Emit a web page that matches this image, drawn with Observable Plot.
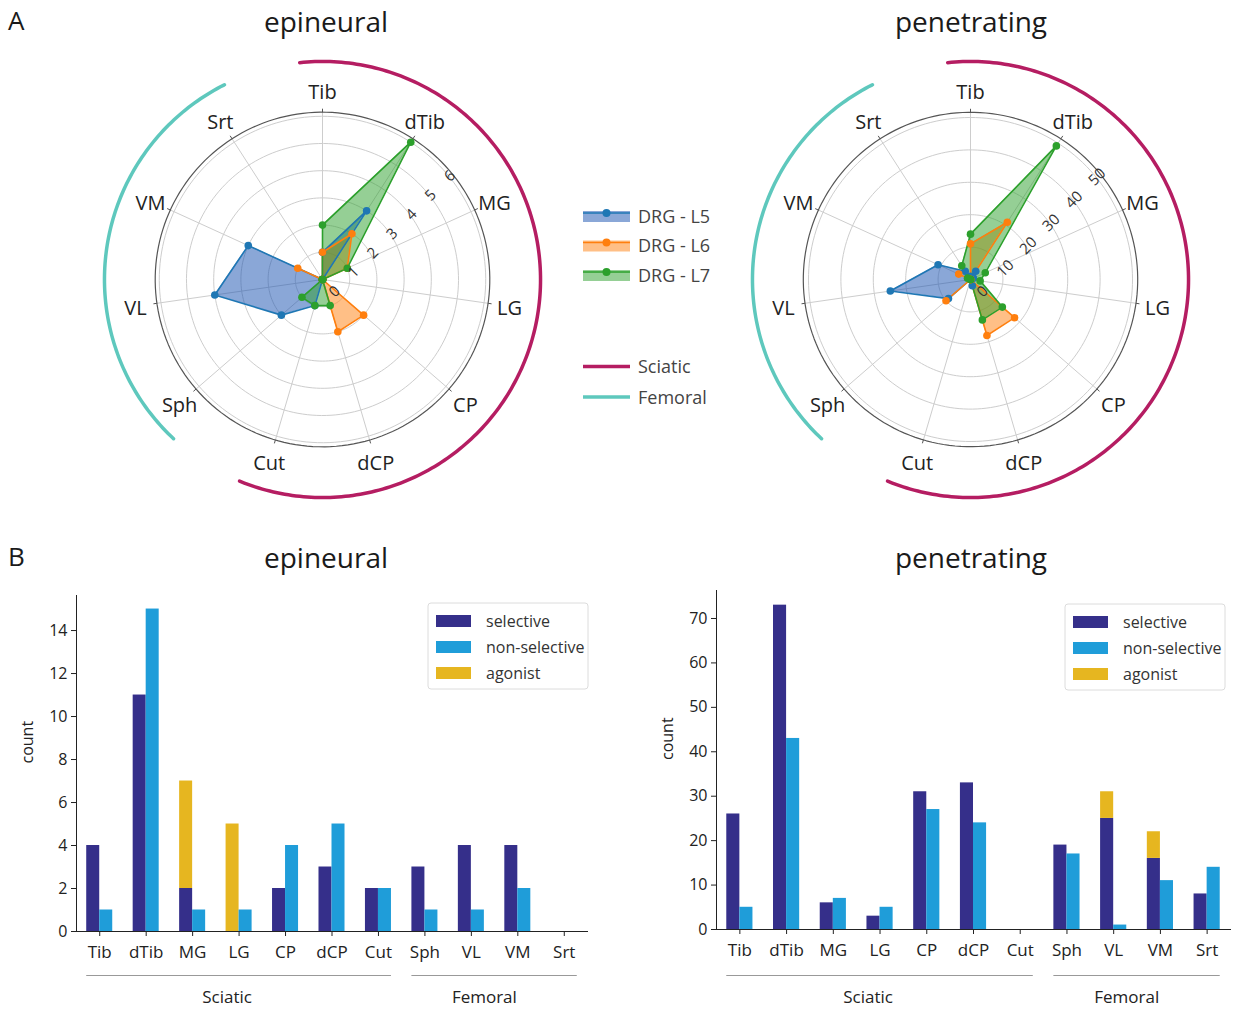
<!DOCTYPE html>
<html>
<head>
<meta charset="utf-8">
<script src="https://cdn.jsdelivr.net/npm/d3@7"></script>
<script src="https://cdn.jsdelivr.net/npm/@observablehq/plot@0.6"></script>
<style>
  body { margin: 0; background: #fff; }
  #page { position: relative; width: 1241px; height: 1011px; overflow: hidden; background: #fff; font-family: 'Open Sans', sans-serif; }
</style>
</head>
<body>
<div id="page"></div>
<script>
// ---------- data ----------
const categories = ["Tib", "dTib", "MG", "LG", "CP", "dCP", "Cut", "Sph", "VL", "VM", "Srt"];
const sciatic = ["Tib", "dTib", "MG", "LG", "CP", "dCP", "Cut"];
const femoral = ["Sph", "VL", "VM", "Srt"];
const nerves = ["Sciatic", "Femoral"];
const nerveColors = ["#b51d62", "#5ec8bd"];

const drgSeries = ["DRG - L5", "DRG - L6", "DRG - L7"];
const drgColors = ["#1f77b4", "#ff7f0e", "#2ca02c"];
const drgFills = ["#1550b0", "#ff7f0e", "#2ca02c"];

// radar values (epineural)
const epiL5 = [1, 3, 0, 0, 0, 0, 1, 2, 4, 3, 0];
const epiL6 = [1, 2, 1, 0, 2, 2, 0, 0, 0, 1, 0];
const epiL7 = [2, 6, 1, 0, 0, 1, 1, 1, 0, 0, 0];
const epiRings = [1, 2, 3, 4, 5, 6];
const epiRTicks = [0, 1, 2, 3, 4, 5, 6];
// radar values (penetrating)
const penL5 = [1, 3, 1, 0, 0, 2, 0, 9, 25, 11, 3];
const penL6 = [11, 21, 0, 0, 18, 18, 0, 10, 0, 4, 0];
const penL7 = [14, 49, 5, 3, 13, 13, 0, 0, 0, 1, 5];
const penRings = [10, 20, 30, 40, 50];
const penRTicks = [0, 10, 20, 30, 40, 50];

// bar values
const barTypes = ["selective", "non-selective", "agonist"];
const barColors = ["#352f8a", "#1f9dd9", "#e6b620"];
const epiSelective    = [4, 11, 2, 0, 2, 3, 2, 3, 4, 4, 0];
const epiNonSelective = [1, 15, 1, 1, 4, 5, 2, 1, 1, 2, 0];
const epiAgonist      = [0, 0, 5, 5, 0, 0, 0, 0, 0, 0, 0];
const epiYTicks = [0, 2, 4, 6, 8, 10, 12, 14];
const penSelective    = [26, 73, 6, 3, 31, 33, 0, 19, 25, 16, 8];
const penNonSelective = [5, 43, 7, 5, 27, 24, 0, 17, 1, 11, 14];
const penAgonist      = [0, 0, 0, 0, 0, 0, 0, 0, 6, 6, 0];
const penYTicks = [0, 10, 20, 30, 40, 50, 60, 70];

// ---------- helpers ----------
const FONT = "'Open Sans', sans-serif";
const page = document.getElementById("page");
function place(el, left, top) {
  el.style.position = "absolute";
  el.style.left = left + "px";
  el.style.top = top + "px";
  page.appendChild(el);
}
const angOf = c => categories.indexOf(c) * 360 / categories.length; // clockwise from top
const lonOf = c => 180 - angOf(c);

// ---------- overlay: titles & legends ----------
const ov = d3.create("svg").attr("width", 1241).attr("height", 1011).style("font-family", FONT);
function T(x, y, txt, size, anchor = "start", fill = "#1a1a1a") {
  ov.append("text").attr("x", x).attr("y", y).attr("font-size", size)
    .attr("text-anchor", anchor).attr("fill", fill).text(txt);
}
T(8, 30, "A", 26);
T(326, 31.5, "epineural", 28, "middle");
T(971, 31.5, "penetrating", 28, "middle");
T(8, 566, "B", 26);
T(326, 567.5, "epineural", 28, "middle");
T(971, 567.5, "penetrating", 28, "middle");

drgSeries.forEach((s, i) => {
  const yc = 216 + 29.5 * i;
  ov.append("rect").attr("x", 583).attr("y", yc - 5).attr("width", 47).attr("height", 11)
    .attr("fill", drgFills[i]).attr("fill-opacity", 0.5);
  ov.append("line").attr("x1", 583).attr("x2", 630).attr("y1", yc - 3).attr("y2", yc - 3)
    .attr("stroke", drgColors[i]).attr("stroke-width", 1.5);
  ov.append("circle").attr("cx", 606.5).attr("cy", yc - 3).attr("r", 4).attr("fill", drgColors[i]);
  T(638, yc + 6.5, s, 18, "start", "#444");
});
nerves.forEach((n, i) => {
  const yc = 366.5 + 30.5 * i;
  ov.append("line").attr("x1", 583).attr("x2", 630).attr("y1", yc).attr("y2", yc)
    .attr("stroke", nerveColors[i]).attr("stroke-width", 3.5);
  T(638, yc + 6.5, n, 18, "start", "#444");
});
function barLegend(x0, y0) {
  ov.append("rect").attr("x", x0).attr("y", y0).attr("width", 160).attr("height", 86).attr("rx", 3)
    .attr("fill", "#fff").attr("stroke", "#dcdcdc");
  barTypes.forEach((t, i) => {
    const yc = y0 + 18 + 26 * i;
    ov.append("rect").attr("x", x0 + 8).attr("y", yc - 6).attr("width", 35).attr("height", 12).attr("fill", barColors[i]);
    T(x0 + 58, yc + 5.5, t, 16, "start", "#333");
  });
}
barLegend(428, 603);
barLegend(1065, 604);
place(ov.node(), 0, 0);

// ---------- radar ----------
function radar(seriesValues, unitDeg, frameR, rings, rticks) {
  const points = drgSeries.flatMap((s, k) =>
    categories.map((c, i) => ({series: s, cat: c, value: seriesValues[k][i]})));
  const frameDeg = frameR * unitDeg;
  const lat = d => 90 - d.value * unitDeg;
  const lon = d => lonOf(d.cat);
  const fillOf = d => drgFills[drgSeries.indexOf(d.series)];
  const arc = (group, color) => {
    const a0 = angOf(group[0]) - 6, a1 = angOf(group[group.length - 1]) + 6;
    const coords = d3.range(a0, a1, 1).concat([a1]).map(t => [180 - t, 90 - 21.8]);
    return Plot.geo([{type: "LineString", coordinates: coords}], {stroke: color, strokeWidth: 3.5, fill: "none"});
  };
  return Plot.plot({
    width: 500, height: 500, margin: 0,
    style: `background: none; font-family: ${FONT}; color: #222;`,
    projection: {
      type: "azimuthal-equidistant",
      rotate: [0, -90],
      domain: d3.geoCircle().center([0, 90]).radius(25)()
    },
    color: {domain: drgSeries, range: drgColors},
    marks: [
      Plot.geo(rings, {geometry: r => d3.geoCircle().center([0, 90]).radius(r * unitDeg)(), stroke: "#cdcdcd", fill: "none", strokeWidth: 1}),
      Plot.link(categories, {x1: lonOf, y1: 90, x2: lonOf, y2: 90 - frameDeg, stroke: "#cdcdcd", strokeWidth: 1}),
      Plot.geo([frameR], {geometry: r => d3.geoCircle().center([0, 90]).radius(r * unitDeg)(), stroke: "#555", fill: "none", strokeWidth: 1.2}),
      Plot.link(categories, {x1: lonOf, y1: 90 - frameDeg, x2: lonOf, y2: 90 - frameDeg - 0.35, stroke: "#555", strokeWidth: 1}),
      arc(sciatic, nerveColors[0]),
      arc(femoral, nerveColors[1]),
      Plot.area(points, {x1: lon, y1: lat, x2: 0, y2: 90, z: "series", fill: fillOf, fillOpacity: 0.5, curve: "linear-closed"}),
      Plot.line(points, {x: lon, y: lat, z: "series", stroke: "series", strokeWidth: 1.6, curve: "linear-closed"}),
      Plot.dot(points, {x: lon, y: lat, fill: "series", r: 3.8}),
      Plot.text(categories, {x: lonOf, y: 90 - 18.9, text: d => d, dy: 2.5, fontSize: 20, fill: "#222"}),
      Plot.text(rticks, {x: 135, y: d => 90 - d * unitDeg, text: d => String(d), dx: 12, dy: 12, rotate: -45, fontSize: 15, fill: "#333"})
    ]
  });
}
place(radar([epiL5, epiL6, epiL7], 2.72, 6.15, epiRings, epiRTicks), 71.7, 29);
place(radar([penL5, penL6, penL7], 0.324, 51.6, penRings, penRTicks), 720, 29);

// ---------- bars ----------
function bars(sel, non, ago, yMax, yTicks, w, h, m, lineDy, labelDy) {
  const stacked = categories.flatMap((c, i) => [
    {cat: c, type: barTypes[0], value: sel[i]},
    {cat: c, type: barTypes[2], value: ago[i]}
  ]);
  const nonRows = categories.map((c, i) => ({cat: c, type: barTypes[1], value: non[i]}));
  const W = w - m.left - m.right;
  const half = (W / categories.length) * (1 - 0.44) / 2;
  return Plot.plot({
    width: w, height: h,
    marginLeft: m.left, marginRight: m.right, marginTop: m.top, marginBottom: m.bottom,
    style: `background: none; font-family: ${FONT}; color: #222;`,
    x: {domain: categories, paddingInner: 0.44, paddingOuter: 0.22, align: 0.5, round: false},
    y: {domain: [0, yMax]},
    color: {domain: barTypes, range: barColors},
    marks: [
      Plot.barY(stacked, {x: "cat", y: "value", fill: "type", insetRight: half}),
      Plot.barY(nonRows, {x: "cat", y: "value", fill: "type", insetLeft: half}),
      Plot.frame({anchor: "left", stroke: "#222"}),
      Plot.frame({anchor: "bottom", stroke: "#222"}),
      Plot.axisY({ticks: yTicks, tickSize: 5, tickPadding: 4, fontSize: 16, label: null}),
      Plot.axisX({tickSize: 5, tickPadding: 9, fontSize: 17, label: null}),
      Plot.text(["count"], {frameAnchor: "left", rotate: -90, dx: -49, fontSize: 16, fill: "#222"}),
      Plot.ruleY([0], {x1: () => sciatic[0], x2: () => sciatic[sciatic.length - 1], dy: lineDy, stroke: "#999"}),
      Plot.ruleY([0], {x1: () => femoral[0], x2: () => femoral[femoral.length - 1], dy: lineDy, stroke: "#999"}),
      Plot.text([nerves[0]], {x: () => "LG", y: () => 0, text: d => d, dx: -12, dy: labelDy, fontSize: 17, fill: "#222"}),
      Plot.text([nerves[1]], {x: () => "VL", y: () => 0, text: d => d, dx: 13, dy: labelDy, fontSize: 17, fill: "#222"})
    ]
  });
}
place(bars(epiSelective, epiNonSelective, epiAgonist, 15.63, epiYTicks, 620, 440,
  {left: 76, right: 33, top: 15, bottom: 89}, 44, 66), 0, 580);
place(bars(penSelective, penNonSelective, penAgonist, 76.3, penYTicks, 601, 440,
  {left: 76, right: 11, top: 10, bottom: 91}, 46, 68), 640, 580);
</script>
</body>
</html>
